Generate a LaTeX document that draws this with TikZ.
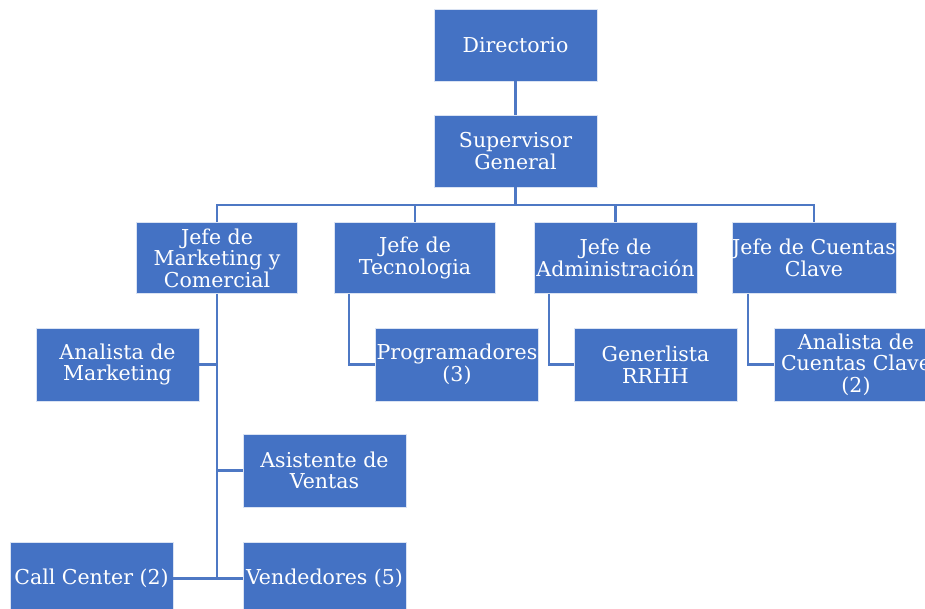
\documentclass[tikz,border=0pt]{standalone}
\usepackage{fontspec}
\setmainfont{DejaVu Serif}
\usetikzlibrary{calc}
\definecolor{boxblue}{HTML}{4472C4}
\definecolor{lineblue}{HTML}{4E78C4}
\tikzset{
  unit/.style={rectangle, fill=boxblue, draw=white!80!boxblue, line width=0.6pt,
    text=white, font=\fontsize{20.5}{21.5}\selectfont, align=center, inner sep=0pt,
    minimum width=163pt, minimum height=73pt},
  conn/.style={draw=lineblue, line width=2.4pt}
}
\begin{document}
\begin{tikzpicture}[x=1pt,y=-1pt]
\useasboundingbox (0,0) rectangle (925,609);
\clip (0,0) rectangle (925,609);
\fill[white] (0,0) rectangle (925,609);
% level 0/1
\node[unit, minimum height=72pt] (dir) at (515.5,45) {Directorio};
\node[unit, minimum height=72pt] (sup) at (515.5,151) {Supervisor\\General};
% level 2
\node[unit, minimum width=161pt, minimum height=71pt] (jm) at (217,258) {Jefe de\\Marketing y\\Comercial};
\node[unit, minimum width=161pt, minimum height=71pt] (jt) at (415,258) {Jefe de\\Tecnologia};
\node[unit, minimum width=163pt, minimum height=71pt] (ja) at (615.5,258) {Jefe de\\Administración};
\node[unit, minimum width=164pt, minimum height=71pt] (jc) at (814,258) {Jefe de Cuentas\\Clave};
% level 3
\node[unit] (am) at (117.5,364.5) {Analista de\\Marketing};
\node[unit] (av) at (324.5,470.5) {Asistente de\\Ventas};
\node[unit] (cc) at (91.5,578.5) {Call Center (2)};
\node[unit] (ve) at (324.5,578.5) {Vendedores (5)};
\node[unit] (pr) at (457,364.5) {Programadores\\(3)};
\node[unit] (gr) at (655.5,364.5) {Generlista\\RRHH};
\node[unit] (ac) at (856,364.5) {Analista de\\Cuentas Clave\\(2)};
% coordinates
\coordinate (bus) at (515.5,205);
\coordinate (tdrop) at ($(jt.south west)+(15,0)$);
\coordinate (adrop) at ($(ja.south west)+(15,0)$);
\coordinate (cdrop) at ($(jc.south west)+(16,0)$);
% connectors
\draw[conn] (dir.south) -- (sup.north);
\draw[conn] (sup.south) -- (bus);
\draw[conn] (bus) -| (jm.north);
\draw[conn] (bus) -| (jt.north);
\draw[conn] (bus) -| (ja.north);
\draw[conn] (bus) -| (jc.north);
\draw[conn] (jm.south) -- (jm.south |- cc.east);
\draw[conn] (am.east) -- (am.east -| jm.south);
\draw[conn] (av.west) -- (av.west -| jm.south);
\draw[conn] (cc.east) -- (ve.west);
\draw[conn] (tdrop) |- (pr.west);
\draw[conn] (adrop) |- (gr.west);
\draw[conn] (cdrop) |- (ac.west);
\end{tikzpicture}
\end{document}
